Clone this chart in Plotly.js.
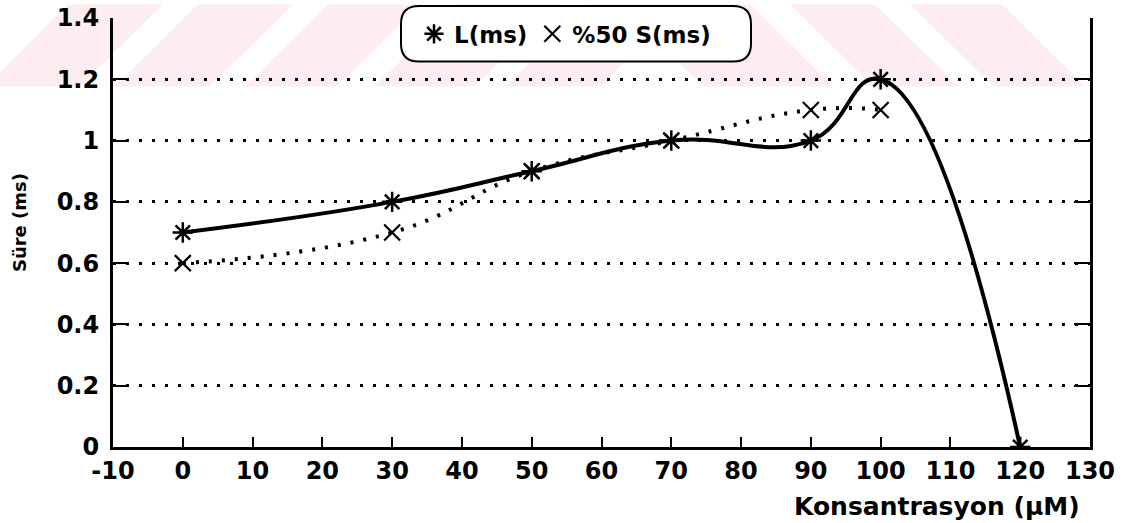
<!DOCTYPE html>
<html>
<head>
<meta charset="utf-8">
<script src="https://cdn.plot.ly/plotly-3.0.1.min.js"></script>
<style>
  html, body { margin: 0; padding: 0; background: #fff; }
  #chart { width: 1134px; height: 523px; }
</style>
</head>
<body>
<div id="chart"></div>
<script>
// Concentration (µM) and measured durations (ms)
const concL = [0, 30, 50, 70, 90, 100, 120];
const durL  = [0.7, 0.8, 0.9, 1.0, 1.0, 1.2, 0];
const concS = [0, 30, 50, 70, 90, 100];
const durS  = [0.6, 0.7, 0.9, 1.0, 1.1, 1.1];
const nameL = 'L(ms)';
const nameS = '%50 S(ms)';
const xTicks = [-10, 0, 10, 20, 30, 40, 50, 60, 70, 80, 90, 100, 110, 120, 130];
const yTicks = [0, 0.2, 0.4, 0.6, 0.8, 1, 1.2, 1.4];

// plot frame in pixels, used to place decorations in paper coordinates
const W = 1134, H = 523;
const PL = 113, PR = 1090, PT = 14, PB = 447;
const px = x => (x - PL) / (PR - PL);
const py = y => (PB - y) / (PB - PT);

const FONT = 'DejaVu Sans';
const pink = 'rgb(254,237,240)';

// faint diagonal band across the top
const shapes = [];
const bandH = 83;
function stripe(x0top, x0bot, w) {
  shapes.push({
    type: 'path', xref: 'paper', yref: 'paper', layer: 'below',
    path: `M ${px(x0top)} ${py(0)} L ${px(x0top + w)} ${py(0)} L ${px(x0bot + w)} ${py(bandH)} L ${px(x0bot)} ${py(bandH)} Z`,
    fillcolor: pink, line: { width: 0 }
  });
}
[[-15, 95], [115, 95], [245, 92], [375, 100], [505, 95]].forEach(([xb, w]) => stripe(xb + 83, xb, w));
[[620, 130], [790, 85], [910, 92]].forEach(([xt, w]) => stripe(xt, xt + 83, w));

// rounded frame around the legend
(function () {
  const x0 = 401, x1 = 751, y0 = 2, y1 = 58, r = 18;
  const p = [
    `M ${px(x0 + r)} ${py(y0)}`,
    `L ${px(x1 - r)} ${py(y0)}`,
    `Q ${px(x1)} ${py(y0)} ${px(x1)} ${py(y0 + r)}`,
    `L ${px(x1)} ${py(y1 - r)}`,
    `Q ${px(x1)} ${py(y1)} ${px(x1 - r)} ${py(y1)}`,
    `L ${px(x0 + r)} ${py(y1)}`,
    `Q ${px(x0)} ${py(y1)} ${px(x0)} ${py(y1 - r)}`,
    `L ${px(x0)} ${py(y0 + r)}`,
    `Q ${px(x0)} ${py(y0)} ${px(x0 + r)} ${py(y0)} Z`
  ].join(' ');
  shapes.push({
    type: 'path', xref: 'paper', yref: 'paper', layer: 'above',
    path: p, fillcolor: 'white', line: { color: 'black', width: 2 }
  });
})();

const traces = [
  { x: concL, y: durL, mode: 'lines', showlegend: false,
    line: { shape: 'spline', smoothing: 1.3, color: 'black', width: 4 } },
  { x: concS, y: durS, mode: 'lines', showlegend: false,
    line: { shape: 'spline', smoothing: 1.3, color: 'black', width: 4, dash: '3px,10px' } },
  { x: concL, y: durL, mode: 'markers', name: nameL,
    marker: { symbol: 'asterisk-open', size: 17, color: 'black', line: { color: 'black', width: 2.5 } } },
  { x: concS, y: durS, mode: 'markers', name: nameS,
    marker: { symbol: 'x-thin-open', size: 16, color: 'black', line: { color: 'black', width: 2.2 } } }
];

const layout = {
  width: W, height: H,
  margin: { l: PL, r: W - PR, t: PT, b: H - PB, pad: 0 },
  paper_bgcolor: 'white', plot_bgcolor: 'rgba(0,0,0,0)',
  font: { family: FONT, color: 'black', weight: 'bold' },
  showlegend: true,
  legend: {
    orientation: 'h', x: px(414), y: py(30), xanchor: 'left', yanchor: 'middle',
    bgcolor: 'rgba(0,0,0,0)', borderwidth: 0,
    font: { family: FONT, size: 23, weight: 'bold', color: 'black' },
    itemclick: false, itemdoubleclick: false, tracegroupgap: 0
  },
  xaxis: {
    range: [-10, 130], tickmode: 'array', tickvals: xTicks,
    ticktext: xTicks.map(String),
    showgrid: false, zeroline: false,
    showline: true, linecolor: 'black', linewidth: 3, mirror: false,
    ticks: 'inside', ticklen: 10, tickwidth: 2, tickcolor: 'black',
    ticklabelstandoff: 0,
    tickfont: { family: FONT, size: 24, weight: 'bold', color: 'black' }
  },
  yaxis: {
    range: [0, 1.4], tickmode: 'array', tickvals: yTicks,
    ticktext: yTicks.map(String),
    showgrid: true, gridcolor: 'black', gridwidth: 3, griddash: '3px,10px',
    zeroline: false,
    showline: true, linecolor: 'black', linewidth: 3, mirror: 'ticks',
    ticks: 'inside', ticklen: 16, tickwidth: 2, tickcolor: 'black',
    ticklabelstandoff: 6,
    tickfont: { family: FONT, size: 24, weight: 'bold', color: 'black' }
  },
  shapes: shapes,
  annotations: [
    { text: 'Konsantrasyon (µM)', xref: 'paper', yref: 'paper',
      x: px(1082), y: py(507), xanchor: 'right', yanchor: 'middle', showarrow: false,
      font: { family: FONT, size: 25, weight: 'bold', color: 'black' } },
    { text: 'Süre (ms)', xref: 'paper', yref: 'paper',
      x: px(19), y: py(221), xanchor: 'center', yanchor: 'middle', showarrow: false,
      textangle: -90,
      font: { family: FONT, size: 18, weight: 'bold', color: 'black' } }
  ]
};

Plotly.newPlot('chart', traces, layout, { staticPlot: true, displayModeBar: false });
</script>
</body>
</html>
